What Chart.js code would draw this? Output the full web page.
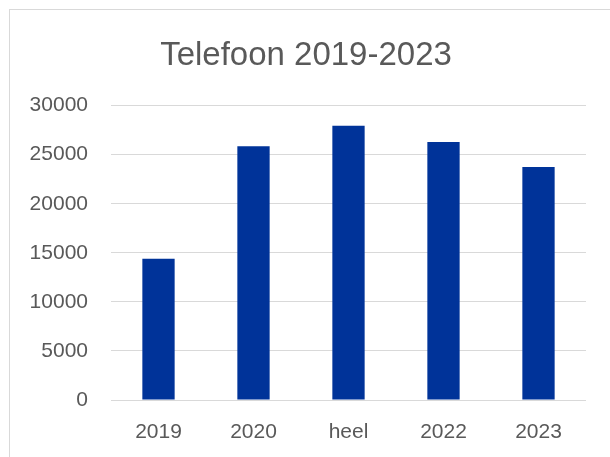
<!DOCTYPE html>
<html>
<head>
<meta charset="utf-8">
<script src="https://cdn.jsdelivr.net/npm/chart.js@4/dist/chart.umd.min.js"></script>
<style>
  html, body { margin: 0; padding: 0; background: #fff; overflow: hidden; }
  #wrap { position: relative; width: 610px; height: 457px; }
  #frame { position: absolute; left: 9px; top: 9px; width: 700px; height: 600px; border: 1px solid #d9d9d9; box-sizing: border-box; }
  canvas { position: absolute; left: 0; top: 0; }
</style>
</head>
<body>
<div id="wrap">
  <div id="frame"></div>
  <canvas id="grafico" width="610" height="457"></canvas>
</div>
<script>
const titel = 'Telefoon 2019-2023';
const categorieen = ['2019', '2020', 'heel', '2022', '2023'];
const aantallen = [14400, 25850, 27950, 26300, 23750];
const yTicks = [0, 5000, 10000, 15000, 20000, 25000, 30000];

document.addEventListener('DOMContentLoaded', () => {
  const tekstKleur = '#595959';
  const ctx = document.getElementById('grafico').getContext('2d');
  new Chart(ctx, {
    type: 'bar',
    data: {
      labels: categorieen,
      datasets: [{
        label: titel,
        data: aantallen,
        backgroundColor: '#003399',
        borderWidth: 0,
        barPercentage: 0.34,
        categoryPercentage: 1
      }]
    },
    options: {
      responsive: false,
      animation: false,
      layout: { padding: { left: 26, right: 24, top: 0, bottom: 0 } },
      plugins: {
        legend: { display: false },
        tooltip: { enabled: false },
        title: {
          display: true,
          text: titel,
          color: tekstKleur,
          font: { family: 'Liberation Sans', size: 33, weight: 'normal' },
          padding: { top: 36, bottom: 30 }
        }
      },
      scales: {
        x: {
          afterFit: scale => { scale.height = 57; },
          grid: { display: false, drawTicks: false },
          border: { display: false },
          ticks: {
            color: tekstKleur,
            font: { family: 'Liberation Sans', size: 21 },
            padding: 20,
            maxRotation: 0
          }
        },
        y: {
          min: 0,
          max: 30000,
          afterBuildTicks: scale => { scale.ticks = yTicks.map(v => ({ value: v })); },
          afterFit: scale => { scale.width = 85; },
          grid: { color: '#d9d9d9', lineWidth: 1, drawTicks: false },
          border: { display: false },
          ticks: {
            color: tekstKleur,
            font: { family: 'Liberation Sans', size: 21 },
            padding: 23,
            callback: v => String(v)
          }
        }
      }
    }
  });
});
</script>
</body>
</html>
